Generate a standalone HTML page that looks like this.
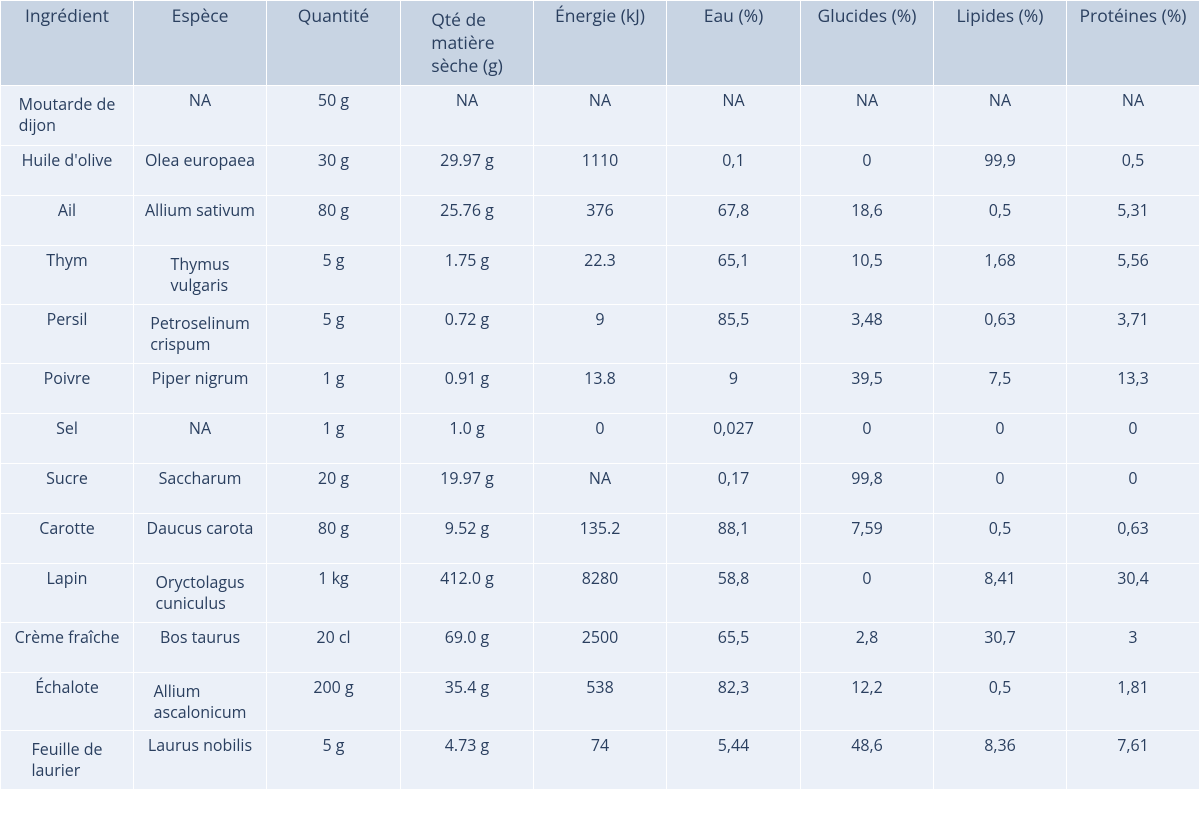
<!DOCTYPE html>
<html><head><meta charset="utf-8"><style>
body{margin:0;background:#fff;width:1200px;height:840px;overflow:hidden;font-family:"Open Sans","Liberation Sans","DejaVu Sans",sans-serif;}
#tbl{position:absolute;left:0;top:0;width:1200px;height:840px;}
.c{position:absolute;box-sizing:border-box;border-right:1px solid #fff;border-bottom:1px solid #fff;color:#2a3f5f;font-size:16px;text-align:center;}
.c span{display:inline-block;text-align:left;line-height:21px;}
.h{background:#c8d4e3;font-size:17.5px;}
.d{background:#ebf0f8;}
</style></head><body>
<div id="tbl"></div>
<script>
const headers=["Ingrédient","Espèce","Quantité","Qté de<br>matière<br>sèche (g)","Énergie (kJ)","Eau (%)","Glucides (%)","Lipides (%)","Protéines (%)"];
const ingredients=["Moutarde de<br>dijon","Huile d'olive","Ail","Thym","Persil","Poivre","Sel","Sucre","Carotte","Lapin","Crème fraîche","Échalote","Feuille de<br>laurier"];
const species=["NA","Olea europaea","Allium sativum","Thymus<br>vulgaris","Petroselinum<br>crispum","Piper nigrum","NA","Saccharum","Daucus carota","Oryctolagus<br>cuniculus","Bos taurus","Allium<br>ascalonicum","Laurus nobilis"];
const quantity=["50 g","30 g","80 g","5 g","5 g","1 g","1 g","20 g","80 g","1 kg","20 cl","200 g","5 g"];
const dryMatter=["NA","29.97 g","25.76 g","1.75 g","0.72 g","0.91 g","1.0 g","19.97 g","9.52 g","412.0 g","69.0 g","35.4 g","4.73 g"];
const energy=["NA","1110","376","22.3","9","13.8","0","NA","135.2","8280","2500","538","74"];
const water=["NA","0,1","67,8","65,1","85,5","9","0,027","0,17","88,1","58,8","65,5","82,3","5,44"];
const carbs=["NA","0","18,6","10,5","3,48","39,5","0","99,8","7,59","0","2,8","12,2","48,6"];
const lipids=["NA","99,9","0,5","1,68","0,63","7,5","0","0","0,5","8,41","30,7","0,5","8,36"];
const proteins=["NA","0,5","5,31","5,56","3,71","13,3","0","0","0,63","30,4","3","1,81","7,61"];
const columns=[ingredients,species,quantity,dryMatter,energy,water,carbs,lipids,proteins];
const colX=[0,134,267,401,534,667,801,934,1067,1200];
const rowY=[0,86,146,196,246,305,364,414,464,514,564,623,673,731,790];
const colNames=["ingredient","species","quantity","dry-matter","energy","water","carbs","lipids","proteins"];
const tbl=document.getElementById('tbl');
function cell(r,c,txt,cls){
  const el=document.createElement('div');
  el.className='c '+cls;
  
  
  const y0=rowY[r+1],y1=rowY[r+2];
  el.style.left=colX[c]+'px';el.style.top=y0+'px';
  el.style.width=(colX[c+1]-colX[c])+'px';el.style.height=(y1-y0)+'px';
  if(c===0)el.style.borderLeft='1px solid #fff';
  if(r<0)el.style.borderTop='1px solid #fff';
  const multi=txt.indexOf('<br>')>=0;
  el.style.paddingTop=((r<0?3:3)+(multi?5:0))+'px';
  const s=document.createElement('span');
  s.innerHTML=txt;
  if(r<0)s.style.lineHeight=multi?'23px':'21px';
  el.appendChild(s);
  tbl.appendChild(el);
}
headers.forEach((h,c)=>cell(-1,c,h,'h'));
for(let r=0;r<ingredients.length;r++)for(let c=0;c<columns.length;c++)cell(r,c,columns[c][r],'d');
</script>
</body></html>
